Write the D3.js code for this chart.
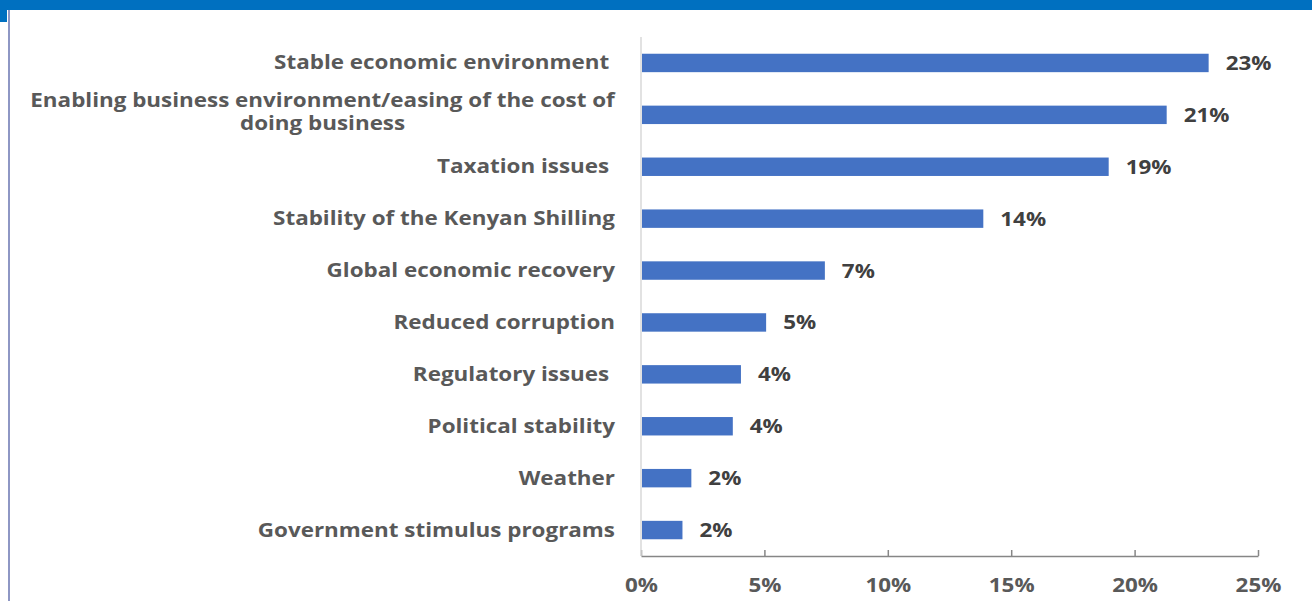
<!DOCTYPE html>
<html>
<head>
<meta charset="utf-8">
<script src="https://cdn.jsdelivr.net/npm/d3@7"></script>
<style>
  html, body { margin: 0; padding: 0; background: #ffffff; }
  svg { display: block; }
  text { font-family: "Open Sans", "Noto Sans", sans-serif; font-weight: 700; white-space: pre; }
</style>
</head>
<body>
<svg id="chart" width="1312" height="601"></svg>
<script>
// Factors expected to support business growth (share of respondents)
const categories = [
  ["Stable economic environment "],
  ["Enabling business environment/easing of the cost of", "doing business"],
  ["Taxation issues "],
  ["Stability of the Kenyan Shilling"],
  ["Global economic recovery"],
  ["Reduced corruption"],
  ["Regulatory issues "],
  ["Political stability"],
  ["Weather"],
  ["Government stimulus programs"]
];
const values = [23.0, 21.3, 18.95, 13.87, 7.45, 5.07, 4.05, 3.72, 2.04, 1.68];
const xTicks = [0, 5, 10, 15, 20, 25];

const W = 1312, H = 601;
const svg = d3.select("#chart");
const sx = 1.18;           // horizontal stretch applied to all text
const fontSize = 19;

// frame: header band and left rule
svg.append("rect").attr("x", 0).attr("y", 0).attr("width", W).attr("height", 10).attr("fill", "#0070c0");
svg.append("rect").attr("x", 0).attr("y", 0).attr("width", 7).attr("height", 22).attr("fill", "#0070c0");
svg.append("line").attr("x1", 9).attr("x2", 9).attr("y1", 10).attr("y2", H)
  .attr("stroke", "#8e97c4").attr("stroke-width", 2);

const rows = categories.map((lines, i) => ({ key: i, lines, value: values[i] }));

const x = d3.scaleLinear().domain([0, 25]).range([641, 1258]);
const y = d3.scaleBand().domain(rows.map(d => d.key)).range([37, 556])
  .paddingInner(0.645).paddingOuter(0.3225);

// x axis with upward ticks
const xAxis = d3.axisBottom(x).tickValues(xTicks).tickSizeInner(-6).tickSizeOuter(0)
  .tickFormat(d => d + "%");
const gx = svg.append("g").attr("transform", `translate(0,556)`).call(xAxis);
gx.select(".domain").attr("stroke", "#868686").attr("stroke-width", 1.5);
gx.selectAll(".tick line").attr("stroke", "#868686").attr("stroke-width", 1.5);
gx.selectAll(".tick text")
  .attr("y", 36).attr("dy", 0)
  .attr("transform", `scale(${sx},1)`)
  .attr("fill", "#595959")
  .style("font-size", fontSize + "px")
  .style("font-family", "'Open Sans', 'Noto Sans', sans-serif")
  .style("font-weight", 700);

// y axis line
svg.append("line").attr("x1", x(0)).attr("x2", x(0)).attr("y1", 37).attr("y2", 556)
  .attr("stroke", "#d9d9d9").attr("stroke-width", 1.5);

// bars
svg.append("g").selectAll("rect").data(rows).join("rect")
  .attr("x", x(0) + 1)
  .attr("y", d => y(d.key))
  .attr("width", d => x(d.value) - x(0) - 1)
  .attr("height", y.bandwidth())
  .attr("fill", "#4472c4");

// value labels
svg.append("g").selectAll("text").data(rows).join("text")
  .attr("transform", d => `translate(${x(d.value) + 17},${y(d.key) + y.bandwidth() / 2 + 7}) scale(${sx},1)`)
  .attr("fill", "#404040")
  .style("font-size", fontSize + "px")
  .text(d => d3.format(".0f")(d.value) + "%");

// category labels, right-aligned; wrapped lines are centred on each other
const labelRight = 615;
const lg = svg.append("g");
rows.forEach(d => {
  const cy = y(d.key) + y.bandwidth() / 2;
  if (d.lines.length === 1) {
    lg.append("text")
      .attr("transform", `translate(${labelRight},${cy + 6.5}) scale(${sx},1)`)
      .attr("text-anchor", "end")
      .attr("fill", "#595959")
      .style("font-size", fontSize + "px")
      .text(d.lines[0]);
  } else {
    const t = lg.append("text")
      .attr("text-anchor", "middle")
      .attr("fill", "#595959")
      .style("font-size", fontSize + "px");
    const spans = d.lines.map((line, j) => t.append("tspan").attr("x", 0).attr("y", j * 23).text(line));
    const widest = d3.max(spans, s => s.node().getComputedTextLength());
    const cx = labelRight - widest * sx / 2;
    t.attr("transform", `translate(${cx},${cy - 8}) scale(${sx},1)`);
  }
});
</script>
</body>
</html>
